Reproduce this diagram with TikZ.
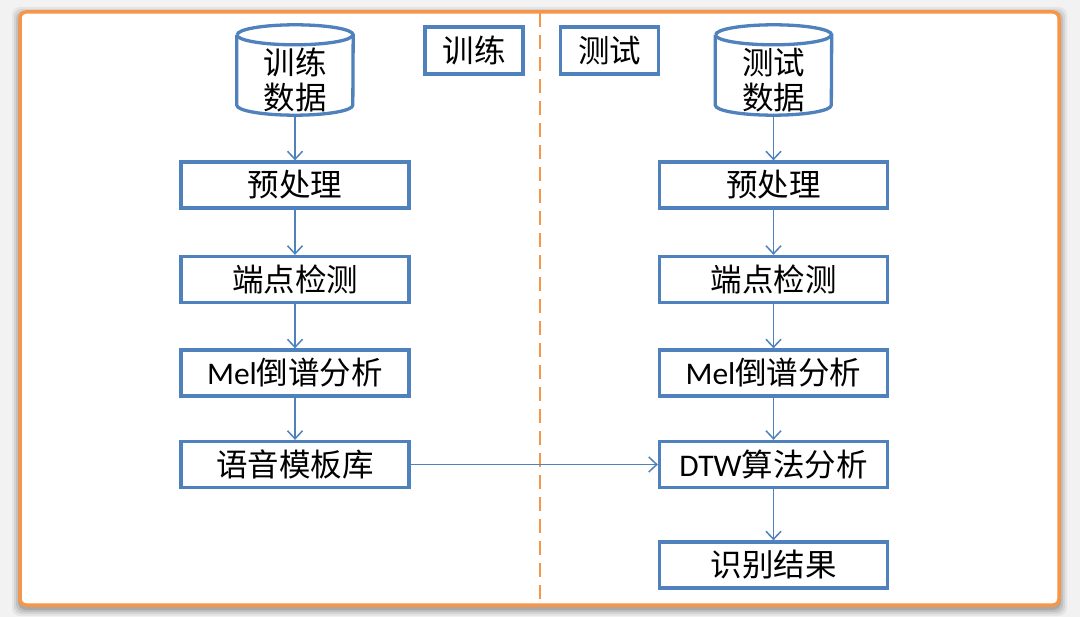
\documentclass[tikz,border=0pt]{standalone}
\usepackage{fontspec}
\setmainfont{Carlito}
\newfontfamily\cjk{Noto Sans CJK SC}
\usetikzlibrary{arrows.meta}
\definecolor{frameor}{HTML}{F79646}
\definecolor{boxblue}{HTML}{4F81BD}
\tikzset{
  stepbox/.style={draw=boxblue, line width=3.3pt, fill=white, minimum width=228pt, minimum height=46pt, inner sep=0pt, font=\fontsize{31.5}{34}\selectfont},
  tagbox/.style={draw=boxblue, line width=3.3pt, fill=white, minimum width=98pt, minimum height=47pt, inner sep=0pt, font=\cjk\fontsize{31.5}{34}\selectfont},
  dbbox/.style={minimum width=116pt, minimum height=90pt, inner sep=0pt},
  flow/.style={draw=boxblue, line width=1.5pt, -{Straight Barb[length=8pt,width=15pt]}},
}
\newcommand{\cylshape}[1]{%
  \draw[boxblue, line width=3.3pt, fill=white]
    ([yshift=-10pt]#1.north west) -- ([yshift=10pt]#1.south west)
    arc[x radius=58pt, y radius=10pt, start angle=180, end angle=360]
    -- ([yshift=-10pt]#1.north east)
    arc[x radius=58pt, y radius=10pt, start angle=0, end angle=180];
  \draw[boxblue, line width=3.3pt]
    ([yshift=-10pt]#1.north west) arc[x radius=58pt, y radius=10pt, start angle=180, end angle=360];
}
\begin{document}
\begin{tikzpicture}[x=1pt,y=-1pt]
\useasboundingbox (0,0) rectangle (1080,617);
\fill[gray!10] (0,0) rectangle (1080,617);
\foreach \s/\o in {8/0.05,6/0.07,4/0.09,2/0.12}{
  \fill[black, opacity=\o, rounded corners=8pt] (20-\s,12-\s+3) rectangle (1059+\s,605+\s+3);
}
\draw[frameor, line width=3.5pt, fill=white, rounded corners=6pt] (20,12) rectangle (1059,605);
\draw[frameor, line width=2.5pt, dash pattern=on 14pt off 8pt] (540,13) -- (540,604);

% tags
\node[tagbox] (tagL) at (474,50.5) {训练};
\node[tagbox] (tagR) at (609.5,50.5) {测试};

% left column
\node[dbbox] (dbL) at (295,70) {};
\cylshape{dbL}
\node[font=\cjk\fontsize{31.5}{35}\selectfont, align=center] at (295,80) {训练\\数据};
\node[stepbox] (preL) at (295,185) {\cjk 预处理};
\node[stepbox] (epL) at (295,279.5) {\cjk 端点检测};
\node[stepbox] (melL) at (295,373) {Mel\cjk 倒谱分析};
\node[stepbox] (tplL) at (295,464.5) {\cjk 语音模板库};

% right column
\node[dbbox] (dbR) at (773.5,70) {};
\cylshape{dbR}
\node[font=\cjk\fontsize{31.5}{35}\selectfont, align=center] at (773.5,80) {测试\\数据};
\node[stepbox] (preR) at (773.5,185) {\cjk 预处理};
\node[stepbox] (epR) at (773.5,279.5) {\cjk 端点检测};
\node[stepbox] (melR) at (773.5,373) {Mel\cjk 倒谱分析};
\node[stepbox] (dtwR) at (773.5,464.5) {DTW\cjk 算法分析};
\node[stepbox] (resR) at (773.5,565) {\cjk 识别结果};

% connectors
\draw[flow] (dbL.south) -- (preL.north);
\draw[flow] (preL) -- (epL);
\draw[flow] (epL) -- (melL);
\draw[flow] (melL) -- (tplL);
\draw[flow] (dbR.south) -- (preR.north);
\draw[flow] (preR) -- (epR);
\draw[flow] (epR) -- (melR);
\draw[flow] (melR) -- (dtwR);
\draw[flow] (dtwR) -- (resR);
\draw[flow] (tplL) -- (dtwR);
\end{tikzpicture}
\end{document}
